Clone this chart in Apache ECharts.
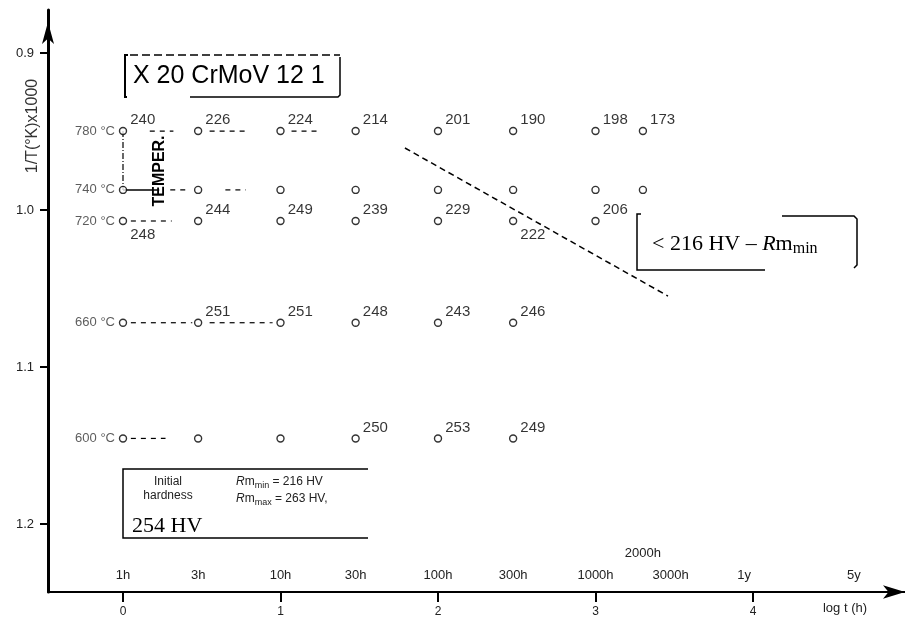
<!DOCTYPE html>
<html><head><meta charset="utf-8">
<script src="https://cdn.jsdelivr.net/npm/echarts@6/dist/echarts.min.js"></script>
<style>html,body{margin:0;padding:0;background:#fff}#c{width:905px;height:624px}</style>
</head><body><div id="c"></div>
<script>
// log10 of tempering time (h)
const logTime = [0, 0.477, 1, 1.477, 2, 2.477, 3, 3.301];
// tempering temperatures (°C) and their 1000/T(K)
const temperatures = [780, 740, 720, 660, 600];
const inverseT = [0.9497, 0.9872, 1.0070, 1.0718, 1.1455];
// hardness (HV) per temperature row; null = point drawn without a value
const hv780 = [240, 226, 224, 214, 201, 190, 198, 173];
const hv740 = [null, null, null, null, null, null, null, null];
const hv720 = [248, 244, 249, 239, 229, 222, 206];
const hv660 = [null, 251, 251, 248, 243, 246];
const hv600 = [null, null, null, 250, 253, 249];
// axis ticks
const yTicks = [0.9, 1.0, 1.1, 1.2];
const xTicks = [0, 1, 2, 3, 4];
const hourTicks = [0, 0.477, 1, 1.477, 2, 2.477, 3, 3.477, 3.943, 4.641];
const hourLabels = ['1h', '3h', '10h', '30h', '100h', '300h', '1000h', '3000h', '1y', '5y'];
const extraHourTicks = [3.301];
const extraHourLabels = ['2000h'];
// 216 HV limit line (log t, 1000/T)
const limitLine = [[1.79, 0.9605], [3.46, 1.0548]];
// dashed connectors: [row, from log t, to log t]
const dashedSegs = [[0, 0.17, 0.32], [0, 0.55, 0.78], [0, 1.07, 1.25], [1, 0.30, 0.42], [1, 0.65, 0.78],
  [2, 0.05, 0.31], [3, 0.05, 0.44], [3, 0.55, 0.95], [4, 0.05, 0.27]];
// temper annotation: vertical from row 0 to row 1 at log t = 0, solid from 0 to 0.23 on row 1
const temperVert = [0, 0, 1];
const temperHoriz = [1, 0, 0.23];

const SANS = '"Liberation Sans", Arial, sans-serif';
const SERIF = '"Liberation Serif", "Times New Roman", serif';
const X_MIN = -0.47619, X_MAX = 4.96508, Y_MIN = 0.87261, Y_MAX = 1.24331;

const hvRows = [hv780, hv740, hv720, hv660, hv600];
const belowLabel = {'2-0': true, '2-5': true};
const pointData = [];
hvRows.forEach((row, r) => row.forEach((v, k) => {
  const item = {value: [logTime[k], inverseT[r]], hv: v};
  if (v == null) item.label = {show: false};
  else if (belowLabel[r + '-' + k]) item.label = {offset: [0, 14]};
  pointData.push(item);
}));

const lineStyleBase = {color: '#000', width: 1.2};
const series = [];
dashedSegs.forEach(s => series.push({
  type: 'line', symbol: 'none', silent: true, animation: false,
  data: [[s[1], inverseT[s[0]]], [s[2], inverseT[s[0]]]],
  lineStyle: Object.assign({}, lineStyleBase, {type: [5, 5]})
}));
series.push({
  type: 'line', symbol: 'none', silent: true, animation: false,
  data: limitLine, lineStyle: Object.assign({}, lineStyleBase, {width: 1.5, type: [6, 4]})
});
series.push({
  type: 'line', symbol: 'none', silent: true, animation: false,
  data: [[temperVert[0], inverseT[temperVert[1]]], [temperVert[0], inverseT[temperVert[2]]]],
  lineStyle: Object.assign({}, lineStyleBase, {type: [6, 2, 1, 2]})
});
series.push({
  type: 'line', symbol: 'none', silent: true, animation: false,
  data: [[temperHoriz[1], inverseT[temperHoriz[0]]], [temperHoriz[2], inverseT[temperHoriz[0]]]],
  lineStyle: Object.assign({}, lineStyleBase, {width: 1.5})
});
series.push({
  type: 'scatter', symbol: 'circle', symbolSize: 2, silent: true, animation: false, z: 4,
  itemStyle: {color: 'rgba(0,0,0,0)'},
  data: temperatures.map((t, i) => ({value: [0, inverseT[i]], t: t})),
  label: {show: true, position: 'left', distance: 7, fontSize: 13, color: '#333', fontFamily: SANS,
    formatter: p => p.data.t + ' °C'}
});
series.push({
  type: 'scatter', symbol: 'circle', symbolSize: 7, animation: false, z: 5,
  itemStyle: {color: '#fff', borderColor: '#000', borderWidth: 1.4},
  data: pointData,
  label: {show: true, position: 'right', distance: 3, offset: [0, -11], fontSize: 15, color: '#000',
    fontFamily: SANS, formatter: p => p.data.hv}
});

function nearestLabel(ticks, labels) {
  return v => {
    let bi = 0, bd = Infinity;
    ticks.forEach((t, i) => { const d = Math.abs(t - v); if (d < bd) { bd = d; bi = i; } });
    return labels[bi];
  };
}

const hidden = {show: false};
const option = {
  backgroundColor: '#fff',
  animation: false,
  grid: {left: 48, right: 0, top: 10, bottom: 32, containLabel: false},
  xAxis: [{
    type: 'value', min: X_MIN, max: X_MAX, position: 'bottom',
    axisLine: {show: true, onZero: false, symbol: ['none', 'arrow'], symbolSize: [10, 22],
      lineStyle: {color: '#000', width: 2}},
    axisTick: {show: true, customValues: xTicks, length: 10, lineStyle: {color: '#000', width: 2}},
    axisLabel: {customValues: xTicks, margin: 14, fontSize: 12, color: '#222', fontFamily: SANS},
    splitLine: hidden
  }, {
    type: 'value', min: X_MIN, max: X_MAX, position: 'bottom', offset: 0,
    axisLine: hidden, axisTick: hidden, splitLine: hidden,
    axisLabel: {inside: true, customValues: hourTicks, margin: 10, fontSize: 13, color: '#222',
      fontFamily: SANS, formatter: nearestLabel(hourTicks, hourLabels)}
  }, {
    type: 'value', min: X_MIN, max: X_MAX, position: 'bottom', offset: 0,
    axisLine: hidden, axisTick: hidden, splitLine: hidden,
    axisLabel: {inside: true, customValues: extraHourTicks, margin: 32, fontSize: 13, color: '#222',
      fontFamily: SANS, formatter: nearestLabel(extraHourTicks, extraHourLabels)}
  }],
  yAxis: {
    type: 'value', inverse: true, min: Y_MIN, max: Y_MAX,
    axisLine: {show: true, onZero: false, symbol: ['none', 'arrow'], symbolSize: [9, 22],
      symbolOffset: [0, -12], lineStyle: {color: '#000', width: 3}},
    axisTick: {show: true, customValues: yTicks, length: 8, lineStyle: {color: '#000', width: 2}},
    axisLabel: {customValues: yTicks, margin: 14, fontSize: 13, color: '#222', fontFamily: SANS,
      formatter: v => v.toFixed(1)},
    splitLine: hidden
  },
  series: series,
  graphic: [
    // title box
    {type: 'polyline', shape: {points: [[128, 55], [125, 55], [125, 97], [127, 97]]}, style: {stroke: '#000', lineWidth: 2, fill: null}},
    {type: 'line', shape: {x1: 130, y1: 55, x2: 340, y2: 55}, style: {stroke: '#000', lineWidth: 1.5, lineDash: [8, 4]}},
    {type: 'polyline', shape: {points: [[190, 97], [338, 97], [340, 95], [340, 57]]}, style: {stroke: '#000', lineWidth: 1.5, fill: null}},
    {type: 'text', x: 133, y: 76, style: {text: 'X 20 CrMoV 12 1', font: '25px ' + SANS, fill: '#000', verticalAlign: 'middle'}},
    // TEMPER.
    {type: 'text', x: 160, y: 171, rotation: Math.PI / 2, style: {text: 'TEMPER.', font: 'bold 16px ' + SANS, fill: '#000', align: 'center', verticalAlign: 'middle'}},
    // y axis title
    {type: 'text', x: 33, y: 126, rotation: Math.PI / 2, style: {text: '1/T(°K)x1000', font: '16px ' + SANS, fill: '#333', align: 'center', verticalAlign: 'middle'}},
    // x axis title
    {type: 'text', x: 845, y: 608, style: {text: 'log t (h)', font: '13px ' + SANS, fill: '#222', align: 'center', verticalAlign: 'middle'}},
    // limit box
    {type: 'polyline', shape: {points: [[641, 214], [637, 214], [637, 270], [765, 270]]}, style: {stroke: '#000', lineWidth: 1.5, fill: null}},
    {type: 'polyline', shape: {points: [[782, 216], [854, 216], [857, 219], [857, 265], [854, 268]]}, style: {stroke: '#000', lineWidth: 1.5, fill: null}},
    {type: 'text', x: 652, y: 244, style: {
      text: '{a|< 216 HV – }{i|R}{a|m}{s|min}', verticalAlign: 'middle',
      rich: {
        a: {fontSize: 22, fontFamily: SERIF, fill: '#000', lineHeight: 26},
        i: {fontSize: 22, fontFamily: SERIF, fontStyle: 'italic', fill: '#000', lineHeight: 26},
        s: {fontSize: 16, fontFamily: SERIF, fill: '#000', verticalAlign: 'bottom', lineHeight: 14}
      }}},
    // initial hardness box
    {type: 'polyline', shape: {points: [[368, 469], [123, 469], [123, 538], [368, 538]]}, style: {stroke: '#000', lineWidth: 1.5, fill: null}},
    {type: 'text', x: 168, y: 482, style: {text: 'Initial', font: '12px ' + SANS, fill: '#222', align: 'center', verticalAlign: 'middle'}},
    {type: 'text', x: 168, y: 496, style: {text: 'hardness', font: '12px ' + SANS, fill: '#222', align: 'center', verticalAlign: 'middle'}},
    {type: 'text', x: 132, y: 526, style: {text: '254 HV', font: '22px ' + SERIF, fill: '#000', verticalAlign: 'middle'}},
    {type: 'text', x: 236, y: 482, style: {
      text: '{i|R}{a|m}{s|min}{a| = 216 HV}', verticalAlign: 'middle',
      rich: {
        a: {fontSize: 12, fontFamily: SANS, fill: '#222', lineHeight: 16},
        i: {fontSize: 12, fontFamily: SANS, fontStyle: 'italic', fill: '#222', lineHeight: 16},
        s: {fontSize: 9, fontFamily: SANS, fill: '#222', verticalAlign: 'bottom', lineHeight: 11}
      }}},
    {type: 'text', x: 236, y: 499, style: {
      text: '{i|R}{a|m}{s|max}{a| = 263 HV,}', verticalAlign: 'middle',
      rich: {
        a: {fontSize: 12, fontFamily: SANS, fill: '#222', lineHeight: 16},
        i: {fontSize: 12, fontFamily: SANS, fontStyle: 'italic', fill: '#222', lineHeight: 16},
        s: {fontSize: 9, fontFamily: SANS, fill: '#222', verticalAlign: 'bottom', lineHeight: 11}
      }}}
  ]
};
const chart = echarts.init(document.getElementById('c'), null, {renderer: 'canvas'});
chart.setOption(option);
</script>
</body></html>
